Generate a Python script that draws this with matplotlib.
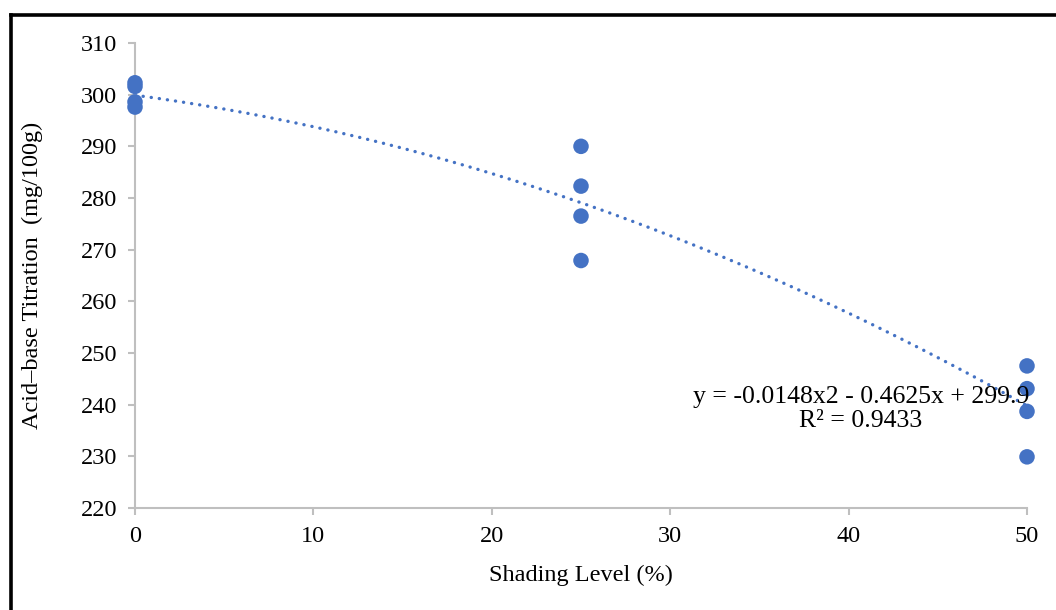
import matplotlib
matplotlib.use("Agg")
import matplotlib.pyplot as plt
from matplotlib.lines import Line2D
import numpy as np

plt.rcParams['font.family'] = ['Liberation Serif', 'DejaVu Serif']

# Data
shading = [0, 0, 0, 0, 25, 25, 25, 25, 50, 50, 50, 50]
titration = [302.3, 301.6, 298.6, 297.6,
             290.0, 282.3, 276.5, 267.9,
             247.5, 243.1, 238.7, 229.9]
trend_coef = [-0.0148, -0.4625, 299.9]   # y = a x^2 + b x + c
equation_text = "y = -0.0148x2 - 0.4625x + 299.9\nR² = 0.9433"
x_ticks = [0, 10, 20, 30, 40, 50]
y_ticks = [220, 230, 240, 250, 260, 270, 280, 290, 300, 310]

W, H = 1056, 610
fig = plt.figure(figsize=(W / 100, H / 100), dpi=100)
ax = fig.add_axes([135 / W, 1 - 508 / H, (1027 - 135) / W, (508 - 43) / H])

blue = '#4472C4'
gray = '#BFBFBF'
fs = 17.5

xs = np.linspace(0, 50, 200)
ax.plot(xs, np.polyval(trend_coef, xs), color=blue, linewidth=2.4,
        linestyle=(0, (0.05, 2.4)), dash_capstyle='round', zorder=2)
ax.scatter(shading, titration, s=125, color=blue, edgecolors='none', zorder=3,
           clip_on=False)

ax.set_xlim(0, 50)
ax.set_ylim(220, 310)
ax.set_xticks(x_ticks)
ax.set_yticks(y_ticks)
for s in ['top', 'right']:
    ax.spines[s].set_visible(False)
for s in ['left', 'bottom']:
    ax.spines[s].set_color(gray)
    ax.spines[s].set_linewidth(1.5)
ax.tick_params(axis='both', colors=gray, length=5, width=1.5, direction='out',
               labelcolor='black', labelsize=fs)
ax.tick_params(axis='x', pad=8)
ax.tick_params(axis='y', pad=8)

ax.set_xlabel('Shading Level (%)', fontsize=fs, labelpad=13)
ax.set_ylabel('Acid–base Titration  (mg/100g)', fontsize=fs, labelpad=27)

fig.text(861 / W, 1 - 409 / H, equation_text, ha='center', va='center',
         fontsize=18.5, linespacing=1.1)

# partial black border (top and left)
fig.add_artist(Line2D([10.5 / W, 10.5 / W], [0, 1 - 14.5 / H],
                      transform=fig.transFigure, color='black', linewidth=2.6,
                      solid_capstyle='projecting'))
fig.add_artist(Line2D([10.5 / W, 1], [1 - 14.5 / H, 1 - 14.5 / H],
                      transform=fig.transFigure, color='black', linewidth=2.6,
                      solid_capstyle='projecting'))

fig.savefig('out.png', dpi=100)
